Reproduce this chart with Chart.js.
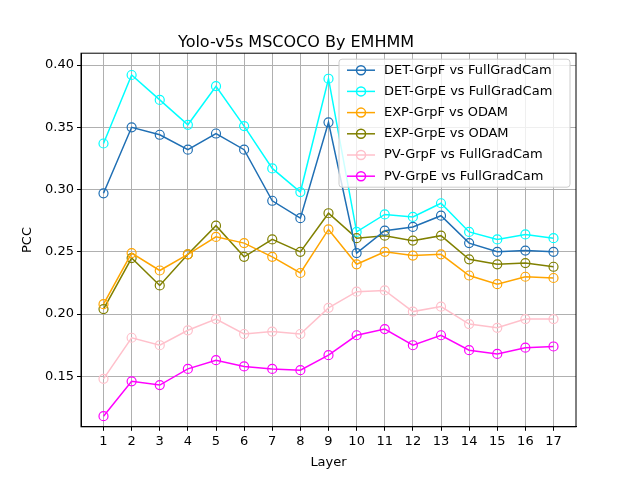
<!DOCTYPE html>
<html><head>
<script src="https://cdn.jsdelivr.net/npm/chart.js@4"></script>
<style>body{margin:0;background:#fff}</style>
</head><body>
<div style="width:640px;height:480px"><canvas id="c"></canvas></div>
<script>
// Werte
var layers = [1,2,3,4,5,6,7,8,9,10,11,12,13,14,15,16,17];
var xTicks = layers;
var yTicks = [0.15,0.20,0.25,0.30,0.35,0.40];
var detGrpF = [0.297,0.350,0.344,0.332,0.345,0.332,0.291,0.277,0.354,0.249,0.267,0.270,0.279,0.257,0.250,0.251,0.250];
var detGrpE = [0.337,0.392,0.372,0.352,0.383,0.351,0.317,0.298,0.389,0.266,0.280,0.278,0.289,0.266,0.260,0.264,0.261];
var expGrpF = [0.208,0.249,0.235,0.248,0.262,0.257,0.246,0.233,0.268,0.240,0.250,0.247,0.248,0.231,0.224,0.230,0.229];
var expGrpE = [0.204,0.245,0.223,0.248,0.271,0.246,0.260,0.250,0.281,0.261,0.263,0.259,0.263,0.244,0.240,0.241,0.238];
var pvGrpF  = [0.148,0.181,0.175,0.187,0.196,0.184,0.186,0.184,0.205,0.218,0.219,0.202,0.206,0.192,0.189,0.196,0.196];
var pvGrpE  = [0.118,0.146,0.143,0.156,0.163,0.158,0.156,0.155,0.167,0.183,0.188,0.175,0.183,0.171,0.168,0.173,0.174];

var names = ['DET-GrpF vs FullGradCam','DET-GrpE vs FullGradCam','EXP-GrpF vs ODAM','EXP-GrpE vs ODAM','PV-GrpF vs FullGradCam','PV-GrpE vs FullGradCam'];
var colors = ['#1f6fb4','#00ffff','#ffa500','#808000','#ffc0cb','#ff00ff'];
var series = [detGrpF,detGrpE,expGrpF,expGrpE,pvGrpF,pvGrpE];

var font = 'DejaVu Sans';
Chart.defaults.font.family = font;
Chart.defaults.color = '#000';

var datasets = series.map(function(s, i) {
    return {
        label: names[i],
        data: s.map(function(v, j) { return {x: layers[j], y: v}; }),
        borderColor: colors[i],
        backgroundColor: 'rgba(0,0,0,0)',
        borderWidth: 1.5,
        pointRadius: 4.5,
        pointBorderWidth: 1.2,
        pointBackgroundColor: 'rgba(0,0,0,0)'
    };
});

// Rahmen und Legende im Plotbereich oben rechts
var legendPlugin = {
    id: 'innerLegend',
    afterDraw: function(chart) {
        var ctx = chart.ctx, a = chart.chartArea;
        ctx.save();
        ctx.strokeStyle = '#000';
        ctx.lineWidth = 1;
        ctx.strokeRect(a.left, a.top, a.right - a.left, a.bottom - a.top);
        var w = 231, h = 128, x = a.right - w - 6, y = a.top + 6;
        ctx.fillStyle = 'rgba(255,255,255,0.8)';
        ctx.strokeStyle = '#ccc';
        ctx.beginPath();
        ctx.roundRect(x, y, w, h, 3);
        ctx.fill(); ctx.stroke();
        ctx.font = '13px ' + font;
        ctx.textBaseline = 'middle';
        names.forEach(function(n, i) {
            var ly = y + 11 + i * 21.2;
            ctx.strokeStyle = colors[i];
            ctx.lineWidth = 1.5;
            ctx.beginPath(); ctx.moveTo(x + 8, ly); ctx.lineTo(x + 36, ly); ctx.stroke();
            ctx.beginPath(); ctx.arc(x + 22, ly, 4.5, 0, Math.PI * 2); ctx.stroke();
            ctx.fillStyle = '#000';
            ctx.fillText(n, x + 45, ly);
        });
        ctx.restore();
    }
};

new Chart(document.getElementById('c'), {
    type: 'line',
    data: {datasets: datasets},
    plugins: [legendPlugin],
    options: {
        responsive: true,
        maintainAspectRatio: false,
        animation: false,
        layout: {padding: {left: 16, right: 64, top: 0, bottom: 8}},
        plugins: {
            legend: {display: false},
            tooltip: {enabled: false},
            title: {display: true, text: 'Yolo-v5s MSCOCO By EMHMM', font: {size: 16, weight: 'normal'}, padding: {top: 33, bottom: 1}}
        },
        scales: {
            x: {
                type: 'linear', min: 0.2, max: 17.8,
                afterBuildTicks: function(ax) { ax.ticks = xTicks.map(function(v) { return {value: v}; }); },
                grid: {color: '#b0b0b0', drawTicks: true, tickLength: 4, tickColor: '#000'},
                border: {color: '#000'},
                ticks: {font: {size: 13}, maxRotation: 0, autoSkip: false},
                title: {display: true, text: 'Layer', font: {size: 13}, padding: 2}
            },
            y: {
                min: 0.1095, max: 0.4095,
                afterBuildTicks: function(ax) { ax.ticks = yTicks.map(function(v) { return {value: v}; }); },
                afterFit: function(ax) { ax.width = 65; },
                grid: {color: '#b0b0b0', tickLength: 4, tickColor: '#000'},
                border: {color: '#000'},
                ticks: {font: {size: 13}, callback: function(v) { return v.toFixed(2); }},
                title: {display: true, text: 'PCC', font: {size: 13}}
            }
        }
    }
});
</script>
</body></html>
